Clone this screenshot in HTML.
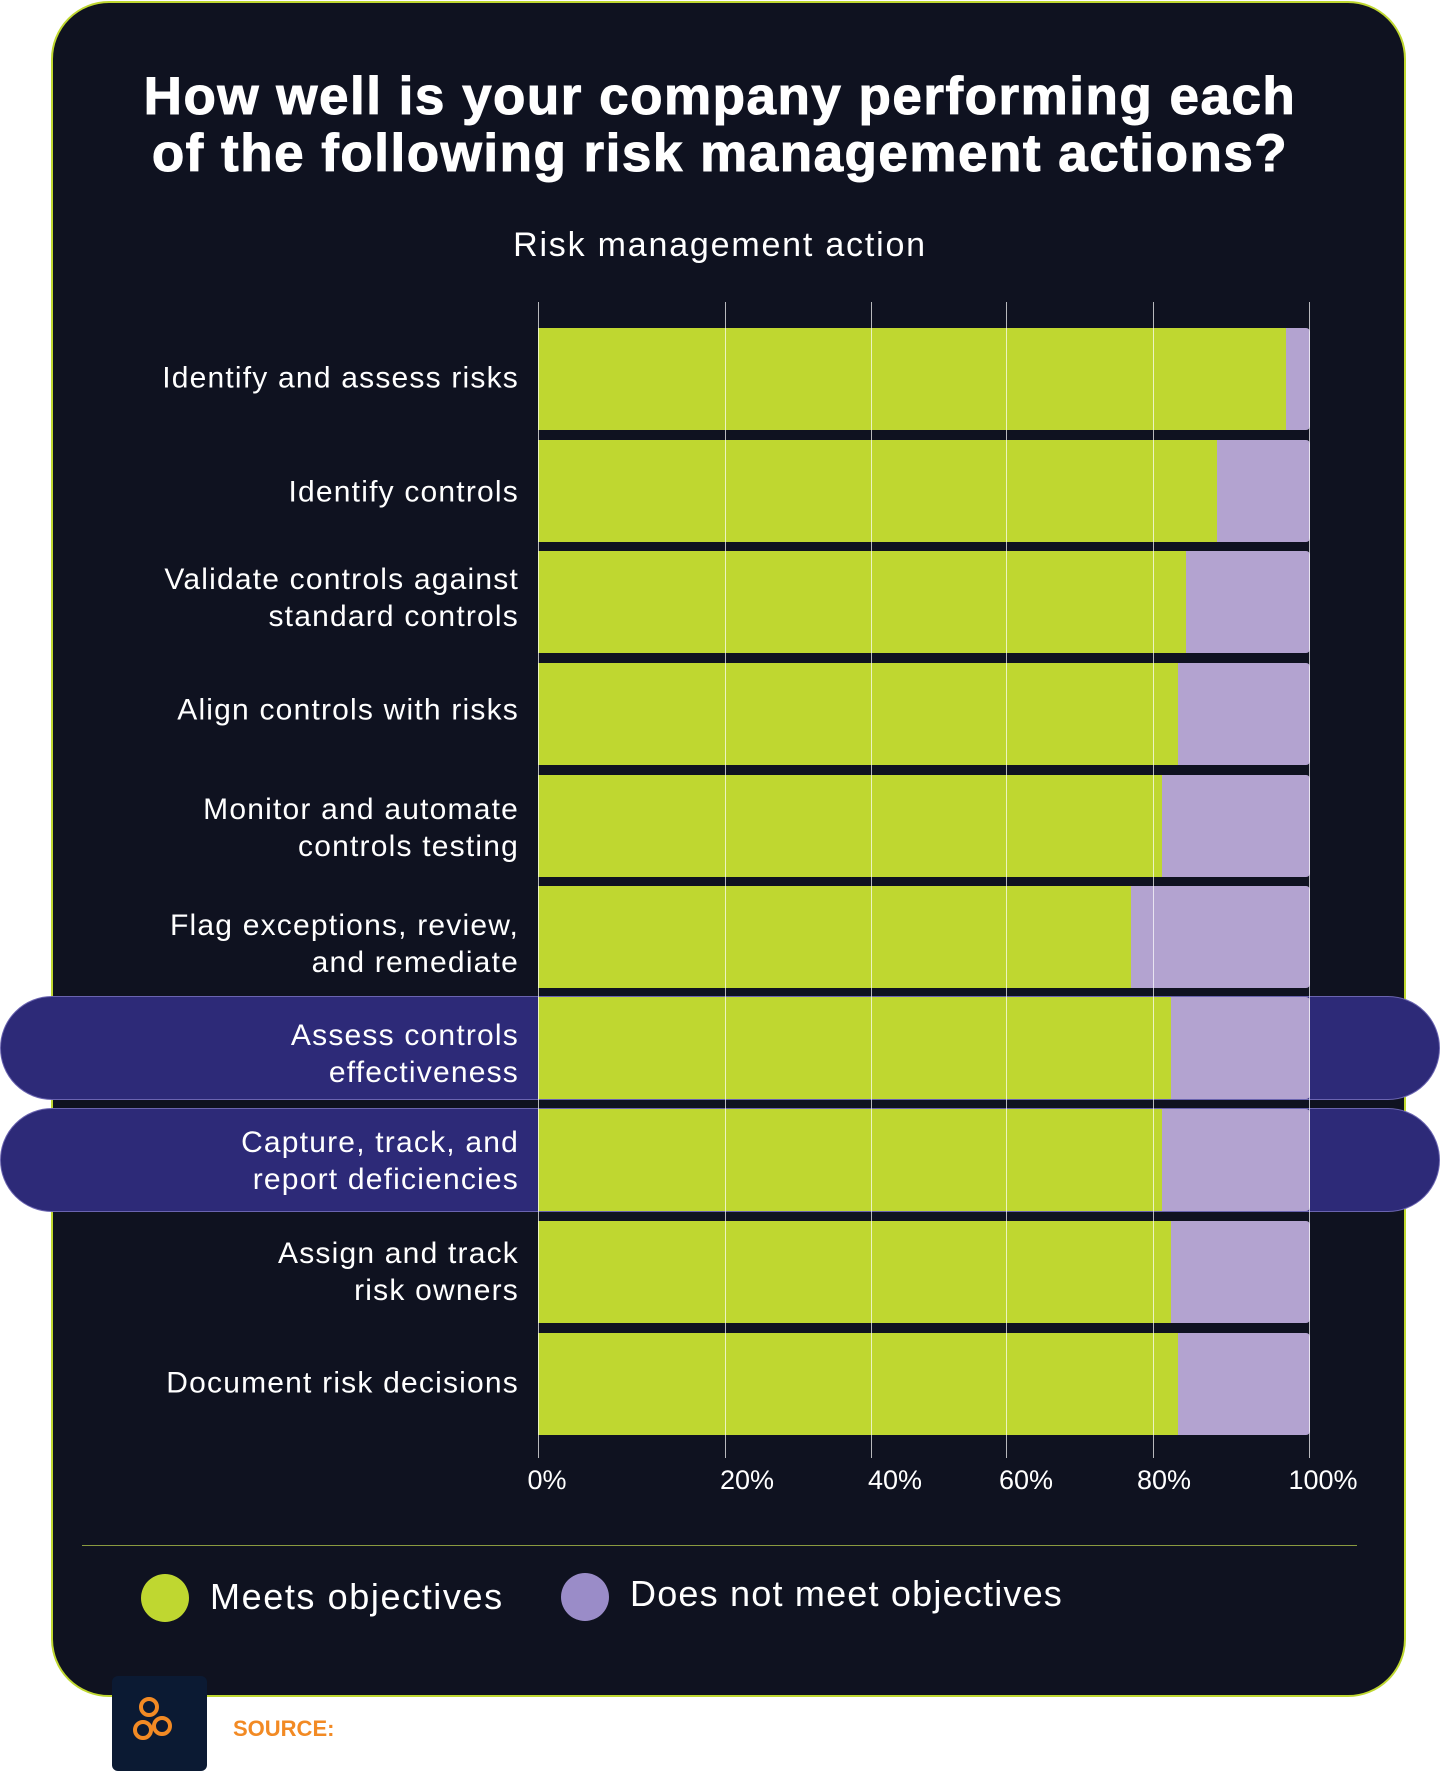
<!DOCTYPE html>
<html><head><meta charset="utf-8"><style>
body{margin:0;width:1440px;height:1767px;background:#fff;position:relative;overflow:hidden;font-family:"Liberation Sans",sans-serif}
.a{position:absolute}
.card{left:51px;top:1px;width:1355px;height:1696px;background:#0f1220;border:2px solid #bfd730;border-radius:58px;box-sizing:border-box}
.pill{left:0;width:1440px;background:#2d2a78;border-radius:52px;border:1px solid #6a64b0;box-sizing:border-box}
.g{background:#bfd730}.p{background:#b3a3d0;border-radius:0 4px 4px 0}
.lbl{right:921px;color:#fff;font-size:30px;letter-spacing:1.2px;text-align:right;line-height:37px;transform:translateY(-50%)}
.grid{width:1px;top:302px;height:1156px;background:rgba(255,255,255,.7)}
.tk{color:#fff;font-size:27px;top:1465px;transform:translateX(-50%)}
</style></head><body>
<div class="a card"></div>
<div class="a" style="left:0;right:0;top:68px;text-align:center;color:#fff;font-weight:bold;font-size:53px;letter-spacing:1.5px;line-height:57px;-webkit-text-stroke:1px #fff">How well is your company performing each<br>of the following risk management actions?</div>
<div class="a" style="left:0;right:0;top:226px;text-align:center;color:#fff;font-size:34px;letter-spacing:1.8px">Risk management action</div>
<div class="a pill" style="top:996px;height:104px"></div>
<div class="a pill" style="top:1108px;height:104px"></div>

<div class="a g" style="left:538px;top:328px;width:748px;height:102px"></div><div class="a p" style="left:1286px;top:328px;width:24px;height:102px"></div>
<div class="a g" style="left:538px;top:440px;width:679px;height:102px"></div><div class="a p" style="left:1217px;top:440px;width:93px;height:102px"></div>
<div class="a g" style="left:538px;top:551px;width:648px;height:102px"></div><div class="a p" style="left:1186px;top:551px;width:124px;height:102px"></div>
<div class="a g" style="left:538px;top:663px;width:640px;height:102px"></div><div class="a p" style="left:1178px;top:663px;width:132px;height:102px"></div>
<div class="a g" style="left:538px;top:775px;width:624px;height:102px"></div><div class="a p" style="left:1162px;top:775px;width:148px;height:102px"></div>
<div class="a g" style="left:538px;top:886px;width:593px;height:102px"></div><div class="a p" style="left:1131px;top:886px;width:179px;height:102px"></div>
<div class="a g" style="left:538px;top:997px;width:633px;height:102px"></div><div class="a p" style="left:1171px;top:997px;width:139px;height:102px"></div>
<div class="a g" style="left:538px;top:1109px;width:624px;height:102px"></div><div class="a p" style="left:1162px;top:1109px;width:148px;height:102px"></div>
<div class="a g" style="left:538px;top:1221px;width:633px;height:102px"></div><div class="a p" style="left:1171px;top:1221px;width:139px;height:102px"></div>
<div class="a g" style="left:538px;top:1333px;width:640px;height:102px"></div><div class="a p" style="left:1178px;top:1333px;width:132px;height:102px"></div>

<div class="a grid" style="left:538px"></div><div class="a grid" style="left:725px"></div><div class="a grid" style="left:871px"></div><div class="a grid" style="left:1006px"></div><div class="a grid" style="left:1153px"></div><div class="a grid" style="left:1309px"></div>

<div class="a lbl" style="top:378px">Identify and assess risks</div>
<div class="a lbl" style="top:492px">Identify controls</div>
<div class="a lbl" style="top:598px">Validate controls against<br>standard controls</div>
<div class="a lbl" style="top:710px">Align controls with risks</div>
<div class="a lbl" style="top:828px">Monitor and automate<br>controls testing</div>
<div class="a lbl" style="top:944px">Flag exceptions, review,<br>and remediate</div>
<div class="a lbl" style="top:1054px">Assess controls<br>effectiveness</div>
<div class="a lbl" style="top:1161px">Capture, track, and<br>report deficiencies</div>
<div class="a lbl" style="top:1272px">Assign and track<br>risk owners</div>
<div class="a lbl" style="top:1383px">Document risk decisions</div>

<div class="a tk" style="left:547px">0%</div><div class="a tk" style="left:747px">20%</div><div class="a tk" style="left:895px">40%</div><div class="a tk" style="left:1026px">60%</div><div class="a tk" style="left:1164px">80%</div><div class="a tk" style="left:1323px">100%</div>

<div class="a" style="left:82px;top:1545px;width:1275px;height:1px;background:#8a9a40"></div>
<div class="a" style="left:141px;top:1574px;width:48px;height:48px;border-radius:50%;background:#bfd730"></div>
<div class="a" style="left:210px;top:1576px;color:#fff;font-size:36px;letter-spacing:1.6px">Meets objectives</div>
<div class="a" style="left:561px;top:1573px;width:48px;height:48px;border-radius:50%;background:#9a8cc8"></div>
<div class="a" style="left:630px;top:1573px;color:#fff;font-size:36px;letter-spacing:1.2px">Does not meet objectives</div>

<div class="a" style="left:112px;top:1676px;width:95px;height:95px;background:#0b1a33;border-radius:6px"></div>
<svg class="a" style="left:130px;top:1692px" width="60" height="60"><g fill="none" stroke="#f28a24" stroke-width="4"><circle cx="19" cy="15" r="8"/><circle cx="13" cy="38" r="8"/><circle cx="32" cy="34" r="8"/></g></svg>
<div class="a" style="left:233px;top:1716px;font-size:22px;color:#f28a24;font-weight:bold">SOURCE: <i style="color:#fff">The 2025 IT Risk and Compliance Benchmark Report</i></div>
<div class="a" style="left:1000px;top:1718px;font-size:18px;color:#fff">hyperproof.io/it-compliance-benchmarks</div>
</body></html>
